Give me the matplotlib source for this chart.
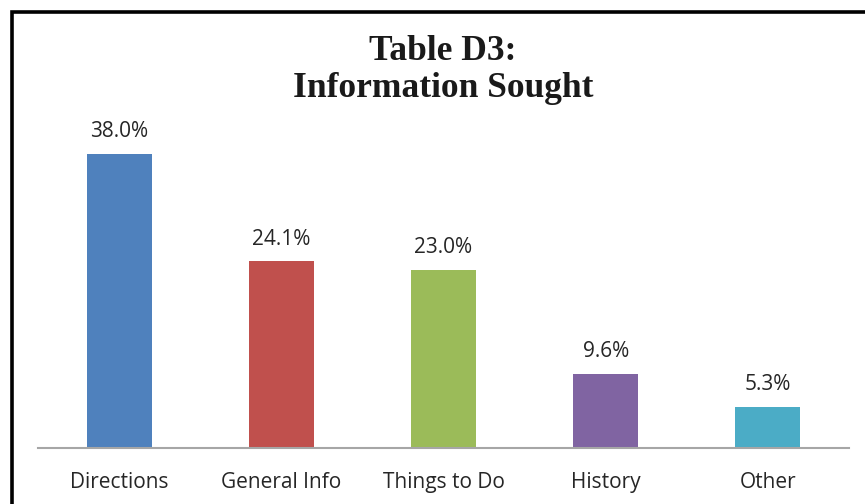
import matplotlib
matplotlib.use("Agg")
import matplotlib.pyplot as plt
from matplotlib.lines import Line2D

categories = ["Directions", "General Info", "Things to Do", "History", "Other"]
values = [38.0, 24.1, 23.0, 9.6, 5.3]
labels = ["38.0%", "24.1%", "23.0%", "9.6%", "5.3%"]
colors = ["#4F81BD", "#C0504D", "#9BBB59", "#8064A2", "#4BACC6"]

W, H = 865, 504
fig = plt.figure(figsize=(W / 100, H / 100), dpi=100)
fig.patch.set_facecolor("white")

ax = fig.add_axes([38 / W, (H - 448) / H, (849 - 38) / W, (448 - 138.4) / H])
x = list(range(len(categories)))
ax.bar(x, values, width=0.4, color=colors, zorder=2)
ax.set_xlim(-0.5, len(categories) - 0.5)
ax.set_ylim(0, 40)
for xi, v, lab in zip(x, values, labels):
    ax.text(xi, v + 1.5, lab, ha="center", va="bottom", fontsize=15,
            family="Open Sans", color="#262626")
ax.set_xticks(x)
ax.set_xticklabels(categories, fontsize=15, family="Open Sans", color="#262626")
ax.tick_params(axis="x", length=0, pad=17)
ax.set_yticks([])
for s in ["top", "right", "left"]:
    ax.spines[s].set_visible(False)
ax.spines["bottom"].set_color("#A6A6A6")
ax.spines["bottom"].set_linewidth(1.5)

fig.text(443 / W, 1 - 70 / H, "Table D3:\nInformation Sought", ha="center", va="center",
         fontsize=25.5, fontweight="bold", family="Liberation Serif", color="#1a1a1a",
         linespacing=1.15)

# frame (cropped on right and bottom)
fig.add_artist(Line2D([11.5 / W, 11.5 / W, 1.0], [0.0, 1 - 11.5 / H, 1 - 11.5 / H],
                      transform=fig.transFigure, color="black", linewidth=2.6,
                      solid_joinstyle="miter"))

fig.savefig("out.png", dpi=100)
